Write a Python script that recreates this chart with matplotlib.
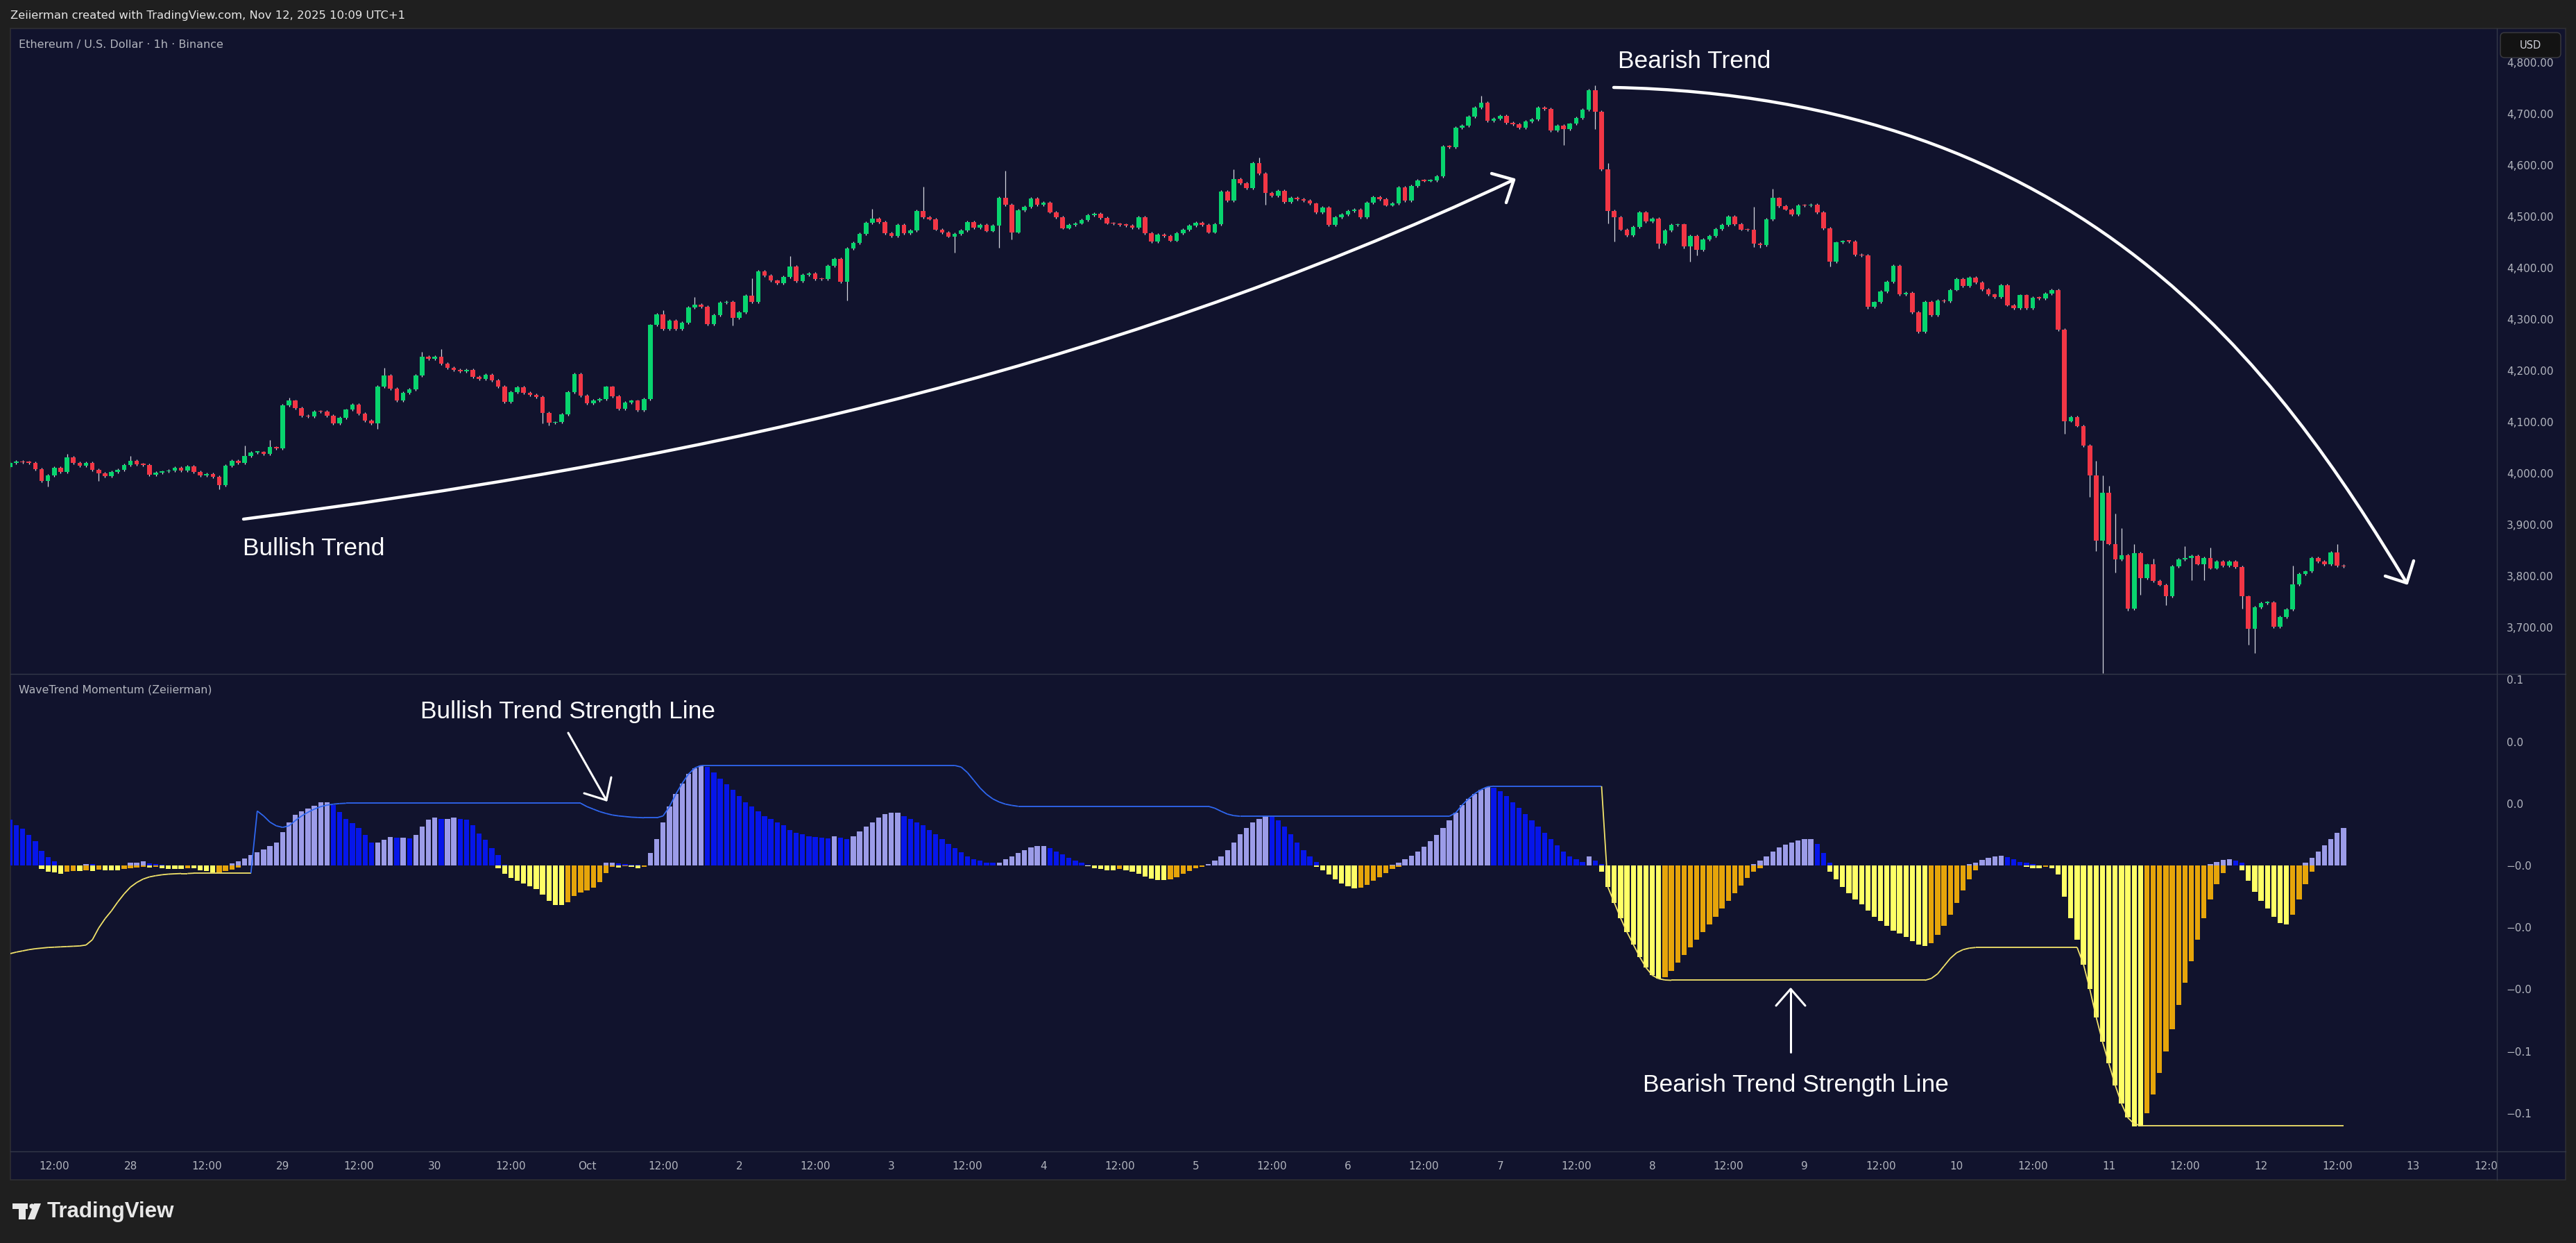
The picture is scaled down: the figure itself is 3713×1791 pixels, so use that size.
import numpy as np
import matplotlib
matplotlib.use("Agg")
import matplotlib.pyplot as plt
from matplotlib.patches import Rectangle, FancyBboxPatch, Polygon, Circle, PathPatch
from matplotlib.path import Path
from matplotlib.collections import LineCollection
from matplotlib.lines import Line2D
from matplotlib.transforms import IdentityTransform

W, H, DPI = 3713, 1791, 100

# ---------------------------------------------------------------- data
# hours are counted from Sep 28 00:00 ; first candle = Sep 27 05:00
first_hour = -19
first_open = 4012.0

closes = [
    # Sep 27 05:00 - 23:00
    4020.7, 4022.9, 4021.5, 4020.6, 4008.5, 3984.6, 3996.3, 4010.8, 4002.6, 4031.0,
    4020.7, 4015.2, 4020.7, 4007.2, 4000.4, 3995.0, 4002.6, 4006.7, 4016.0,
    # Sep 28
    4024.3, 4018.0, 4016.5, 3997.3, 4001.3, 4003.5, 4005.3, 4010.8, 4005.8, 4013.5, 4003.1, 3996.3,
    3999.0, 3993.6, 3977.4, 4014.8, 4024.3, 4020.7, 4034.2, 4041.0, 4041.4, 4037.8, 4050.8, 4049.0,
    # Sep 29
    4132.4, 4141.4, 4127.4, 4112.6, 4110.8, 4120.7, 4120.2, 4112.1, 4097.3, 4108.1, 4123.8, 4133.7,
    4116.6, 4102.7, 4097.3, 4168.9, 4190.1, 4164.8, 4142.3, 4156.7, 4163.5, 4190.5, 4226.6, 4223.4,
    # Sep 30
    4227.0, 4213.5, 4205.4, 4200.9, 4198.6, 4201.3, 4188.2, 4184.2, 4191.9, 4181.5, 4169.3, 4139.0,
    4158.1, 4167.1, 4157.2, 4152.7, 4149.1, 4117.5, 4098.2, 4099.5, 4114.4, 4158.1, 4192.8, 4151.3,
    # Oct 1
    4136.9, 4142.3, 4144.6, 4168.4, 4150.4, 4125.6, 4137.8, 4141.4, 4123.4, 4144.6, 4288.7, 4309.0,
    4281.1, 4297.3, 4281.1, 4293.2, 4323.0, 4328.4, 4324.3, 4291.0, 4308.1, 4332.4, 4333.8, 4303.1,
    # Oct 2
    4313.5, 4345.9, 4333.8, 4393.2, 4385.1, 4375.2, 4370.7, 4382.4, 4402.7, 4374.3, 4386.5, 4389.2,
    4378.8, 4378.0, 4404.0, 4418.0, 4373.4, 4437.8, 4448.6, 4466.2, 4487.8, 4495.9, 4489.2, 4468.0,
    # Oct 3
    4462.2, 4483.8, 4468.0, 4473.0, 4510.8, 4499.1, 4495.1, 4474.8, 4468.9, 4461.3, 4465.8, 4473.0,
    4489.2, 4478.8, 4483.8, 4472.1, 4482.0, 4536.5, 4523.0, 4469.4, 4511.7, 4518.9, 4535.1, 4523.4,
    # Oct 4
    4527.0, 4508.6, 4499.1, 4477.5, 4483.8, 4487.0, 4493.2, 4502.7, 4505.9, 4497.7, 4487.0, 4486.0,
    4483.8, 4482.9, 4478.8, 4498.6, 4468.0, 4451.8, 4464.9, 4462.6, 4453.2, 4467.1, 4473.9, 4482.4,
    # Oct 5
    4487.8, 4484.2, 4469.4, 4485.1, 4548.7, 4530.6, 4573.0, 4564.4, 4555.4, 4603.6, 4583.8, 4546.4,
    4541.0, 4549.6, 4528.8, 4536.5, 4534.2, 4531.5, 4525.2, 4508.5, 4517.1, 4484.2, 4498.2, 4504.1,
    # Oct 6
    4510.8, 4514.0, 4498.2, 4526.6, 4537.8, 4534.2, 4522.1, 4525.7, 4556.7, 4531.1, 4559.4, 4570.3,
    4569.4, 4570.3, 4578.0, 4636.5, 4635.6, 4673.0, 4677.0, 4694.6, 4712.2, 4721.2, 4686.9, 4690.5,
    # Oct 7
    4696.4, 4682.9, 4679.3, 4673.0, 4685.1, 4689.2, 4712.2, 4709.9, 4668.0, 4677.0, 4670.7, 4680.6,
    4691.9, 4708.1, 4746.0, 4704.5, 4592.3, 4511.0, 4499.1, 4474.8, 4463.0, 4479.3, 4508.1, 4491.0,
    # Oct 8
    4496.0, 4447.7, 4473.0, 4483.8, 4484.5, 4441.9, 4462.6, 4435.1, 4455.4, 4462.1, 4475.7, 4483.8,
    4500.0, 4484.7, 4474.8, 4474.3, 4447.7, 4444.1, 4494.6, 4536.0, 4520.7, 4514.0, 4503.6, 4521.6,
    # Oct 9
    4521.0, 4523.0, 4508.5, 4476.6, 4411.7, 4449.5, 4452.2, 4451.5, 4426.1, 4424.3, 4324.7, 4333.3,
    4354.0, 4372.9, 4403.6, 4349.1, 4352.0, 4313.4, 4276.0, 4334.0, 4307.6, 4336.3, 4335.0, 4357.4,
    # Oct 10
    4378.5, 4365.0, 4380.8, 4372.0, 4358.0, 4348.0, 4342.7, 4366.2, 4327.5, 4321.1, 4346.8, 4321.6,
    4342.2, 4341.0, 4349.8, 4356.8, 4280.0, 4101.9, 4109.5, 4092.5, 4054.4, 3996.4, 3869.3, 3961.8,
    # Oct 11
    3862.8, 3832.3, 3841.1, 3736.8, 3845.2, 3795.4, 3822.4, 3790.7, 3783.1, 3760.2, 3818.9, 3832.3,
    3835.3, 3839.4, 3823.6, 3834.7, 3815.4, 3828.2, 3820.6, 3828.2, 3817.1, 3760.2, 3697.0, 3739.2,
    # Oct 12
    3747.4, 3748.5, 3701.7, 3720.4, 3735.1, 3783.7, 3804.2, 3808.9, 3835.3, 3828.8, 3822.4, 3845.8,
    3820.6, 3818.9,
]

# notable wick extremes (hour -> price)
wick_highs = {-10: 4037.8, 0: 4034.2, 18: 4054.0, 22: 4064.8, 25: 4146.8, 40: 4205.4, 46: 4236.5,
              49: 4241.4, 84: 4318.0, 89: 4342.8, 98: 4379.7, 104: 4423.0, 117: 4514.9, 125: 4558.1,
              138: 4589.2, 174: 4591.9, 178: 4614.9, 213: 4735.6, 231: 4755.0, 232: 4706.0,
              233: 4604.0, 256: 4518.4, 259: 4553.6, 310: 4024.0, 311: 3996.4, 312: 3975.9,
              313: 3921.4, 314: 3893.3, 316: 3861.6, 319: 3834.0, 324: 3858.7, 328: 3856.0,
              341: 3820.0, 348: 3861.6}
wick_lows = {-13: 3974.7, -5: 3984.6, 14: 3968.9, 39: 4086.9, 65: 4097.0, 66: 4093.0, 91: 4288.3,
             95: 4288.0, 113: 4337.0, 130: 4429.3, 137: 4439.6, 139: 4455.8, 179: 4523.0,
             226: 4639.2, 231: 4670.3, 233: 4487.0, 234: 4450.9, 241: 4437.4, 245: 4437.4,
             246: 4412.6, 247: 4424.7, 256: 4441.0, 257: 4439.0, 268: 4402.2, 274: 4320.2,
             305: 4076.7, 309: 3953.6, 310: 3848.2, 311: 3610.8, 313: 3807.1, 315: 3733.0,
             317: 3763.2, 321: 3742.7, 325: 3791.3, 327: 3791.3, 333: 3736.8, 334: 3666.5,
             335: 3650.6, 338: 3700.0}

price_ticks = [3700, 3800, 3900, 4000, 4100, 4200, 4300, 4400, 4500, 4600, 4700, 4800]

# WaveTrend momentum histogram (x 1e-4), one value per candle
bull_hist_e4 = ([147, 131, 118, 99, 78, 46, 27, 13] + [0] * 4 + [5, 4] + [0] * 5 +
                [8, 10, 13, 6, 4, 2] + [0] * 4 + [1] + [0] * 5 +
                [7, 13, 22, 33, 42, 51, 62, 73, 107, 138, 163, 175, 184, 193, 203, 203] +
                [195, 172, 151, 136, 120, 98, 75, 75, 84, 91, 89, 89, 87, 98, 125, 149, 154, 151,
                 151, 154, 151, 147, 131, 104, 82, 57, 33] +
                [2] + [0] * 15 + [9, 10, 6, 5, 3, 2] + [0] +
                [40, 85, 140, 190, 230, 265, 295, 315, 323] +
                [318, 300, 280, 262, 245, 225, 205, 190, 175, 160, 150, 140, 130, 115] +
                [105, 100, 95, 92, 90, 88, 95, 90, 85, 95, 110, 125, 140, 155, 165, 170, 170] +
                [160, 150, 140, 130, 115, 100, 85, 70, 55, 42, 30, 20, 15, 10, 8] +
                [10, 20, 30, 40, 50, 58, 62, 62, 55, 45, 35, 25, 15, 8, 3] +
                [0] * 18 +
                [5, 15, 30, 50, 75, 100, 120, 138, 150, 159, 158, 145, 125, 100, 75, 50, 30, 12] +
                [0] * 11 +
                [3, 10, 20, 32, 45, 60, 78, 98, 120, 145, 170, 195, 215, 232, 245, 254, 252, 240,
                 225, 205, 185, 165, 145, 125, 105, 85, 65, 45, 30, 20, 12, 30, 15, 5] +
                [0] * 23 +
                [5, 15, 30, 45, 58, 68, 75, 80, 85, 85, 70, 40, 10] +
                [0] * 21 +
                [5, 10, 18, 25, 30, 32, 28, 20, 12, 8, 5] +
                [0] * 27 +
                [5, 12, 18, 20, 15, 8] +
                [0] * 9 +
                [10, 25, 45, 65, 85, 105, 122])

bear_hist_e4 = ([0] * 5 +
                [-11, -20, -22, -27, -20, -18, -18, -16, -18, -14, -15, -16, -16, -12] +
                [-8, -6, -4, -7, -5, -9, -12, -12, -12, -9, -10, -16, -18, -23, -22, -18, -13, -7] +
                [0] * 40 +
                [-9, -28, -41, -50, -59, -68, -77, -95, -115, -128, -128, -119, -99, -88, -81, -72,
                 -54, -25, -4, -6] +
                [-3, -5, -8, -5] +
                [0] * 69 +
                [-3, -8, -12, -15, -15, -12, -15, -20, -28, -35, -42, -47, -48, -45, -38, -28, -18,
                 -10, -4] +
                [0] * 17 +
                [-5, -15, -30, -45, -58, -68, -74, -72, -62, -50, -38, -25, -12, -4] +
                [0] * 31 +
                [-20, -70, -120, -170, -215, -255, -295, -330, -355, -366, -360, -340, -315, -290,
                 -265, -240, -215, -190, -165, -140, -115, -90, -65, -40, -20, -8] +
                [0] * 10 +
                [-20, -45, -70, -90, -110, -125, -145, -165, -180, -195, -210, -220, -232, -245,
                 -255, -260, -250, -225, -195, -160, -120, -80, -45, -15] +
                [0] * 7 +
                [-5, -8, -10, -5, -10, -30, -100, -170, -240, -320, -400, -490, -570, -640, -710,
                 -770, -815, -843, -843, -800, -740, -670, -600, -530, -450, -380, -310, -240, -170,
                 -110, -60, -25] +
                [0, 0] +
                [-15, -50, -85, -115, -140, -165, -185, -191, -160, -110, -60, -20] +
                [0] * 5)

# trend strength line (x 1e-4); positive = bullish line, negative = bearish line
strength_line_e4 = ([-285, -280, -276, -272, -269, -267, -265, -264, -263, -262, -261, -260, -257,
                     -240, -202, -172, -147, -118, -92, -70, -55, -44, -37, -33, -30, -28, -27,
                     -26, -26, -25] +
                    [-25] * 9 +
                    [176, 160, 140, 128, 123, 128, 145, 160, 172, 182, 190, 195, 198, 200] +
                    [201] * 38 +
                    [190, 182, 174, 168, 163, 160, 158, 156, 155, 154, 154, 154, 160, 190, 230, 265,
                     295, 315, 323] +
                    [323] * 40 +
                    [318, 300, 275, 250, 230, 215, 205, 198, 194] +
                    [191] * 31 +
                    [185, 175, 166, 161] +
                    [159] * 34 +
                    [170, 195, 215, 232, 245, 254] +
                    [256] * 18 +
                    [-70, -120, -170, -215, -255, -295, -330, -355, -366, -370] +
                    [-371] * 41 +
                    [-365, -350, -325, -300, -282, -272, -267] +
                    [-265] * 17 +
                    [-320, -400, -490, -570, -640, -710, -770, -815, -835] +
                    [-840] * 33)

osc_ticks = [0.06, 0.04, 0.02, 0.0, -0.02, -0.04, -0.06, -0.08]
osc_tick_labels = ["0.1", "0.0", "0.0", "\u22120.0", "\u22120.0", "\u22120.0", "\u22120.1", "\u22120.1"]

time_tick_hours = list(range(-12, 373, 12))
time_tick_labels = ["12:00", "28", "12:00", "29", "12:00", "30", "12:00", "Oct", "12:00", "2",
                    "12:00", "3", "12:00", "4", "12:00", "5", "12:00", "6", "12:00", "7", "12:00",
                    "8", "12:00", "9", "12:00", "10", "12:00", "11", "12:00", "12", "12:00", "13",
                    "12:00"]

assert len(closes) == len(bull_hist_e4) == len(bear_hist_e4) == len(strength_line_e4) == 369

# ---------------------------------------------------------------- style / layout
BG_OUT = "#1f1f1f"
NAVY = "#11132d"
SEP = "#343849"
TXT = "#b2b5be"
GREEN = "#08d46e"
RED = "#f23645"
WICK = "#d4d6de"
LAV = "#9c9ce8"
DBLUE = "#0616ea"
LYEL = "#ffff66"
ORNG = "#e6a50a"
BULL_LINE = "#2f67f0"
BEAR_LINE = "#f2e36a"

X0, X1, XR = 15, 3599, 3698          # plot left, price-axis separator, frame right (px)
Y_TOP, Y_SEP, Y_BOT, Y_AXB = 41, 971, 1659, 1700
PX_HOUR, X_H0 = 9.14, 188.0          # x pixel of Sep 28 00:00 and pixels per hour
def h_at(x):
    return (x - X_H0) / PX_HOUR
def price_at(y):
    return 4700 - (y - 164) / 0.74
ZERO_Y, PX_UNIT = 1247, 4460.0
def osc_at(y):
    return (ZERO_Y - y) / PX_UNIT

def fx(x):
    return x / W
def fy(y):
    return 1 - y / H

ID = IdentityTransform()
fig = plt.figure(figsize=(W / DPI, H / DPI), dpi=DPI, facecolor=BG_OUT)

fig.add_artist(Rectangle((X0, H - Y_AXB), XR - X0, Y_AXB - Y_TOP, transform=ID,
                         facecolor=NAVY, edgecolor="#2e2e33", lw=1.2, zorder=-10))

def make_ax(y_top, y_bot):
    a = fig.add_axes([fx(X0), fy(y_bot), fx(X1) - fx(X0), fy(y_top) - fy(y_bot)])
    a.patch.set_visible(False)
    for s in a.spines.values():
        s.set_visible(False)
    a.set_xlim(h_at(X0), h_at(X1))
    a.set_xticks([])
    return a

ax = make_ax(Y_TOP, Y_SEP)
ax2 = make_ax(Y_SEP, Y_BOT)
axt = make_ax(Y_BOT, Y_AXB)

# ---------------------------------------------------------------- candles
hours = np.arange(first_hour, first_hour + len(closes))
c = np.array(closes, dtype=float)
o = np.concatenate([[first_open], c[:-1]])
hi = np.maximum(o, c) + 2.5
lo = np.minimum(o, c) - 2.5
for hh, v in wick_highs.items():
    i = hh - first_hour
    hi[i] = max(hi[i], v)
for hh, v in wick_lows.items():
    i = hh - first_hour
    lo[i] = min(lo[i], v)
up = c >= o
ax.vlines(hours, lo, hi, color=WICK, lw=0.9, zorder=2)
ax.bar(hours, np.maximum(np.abs(c - o), 2.0), bottom=np.minimum(o, c), width=0.72,
       color=np.where(up, GREEN, RED), linewidth=0, zorder=3)
ax.set_ylim(price_at(Y_SEP), price_at(Y_TOP))
ax.yaxis.tick_right()
ax.set_yticks(price_ticks)
ax.set_yticklabels([f"{p:,.2f}" for p in price_ticks])
ax.tick_params(axis="y", length=0, pad=10, labelsize=11, labelcolor=TXT)

# ---------------------------------------------------------------- oscillator
bull = np.array(bull_hist_e4) / 1e4
bear = np.array(bear_hist_e4) / 1e4
prev_b = np.concatenate([[np.inf], bull[:-1]])
bull_cols = np.where(bull >= prev_b, LAV, DBLUE)
mag = -bear
prev_m = np.concatenate([[np.inf], mag[:-1]])
bear_cols = np.where(mag >= prev_m, LYEL, ORNG)
ax2.bar(hours, bull, width=0.8, color=bull_cols, linewidth=0, zorder=2)
ax2.bar(hours, bear, width=0.8, color=bear_cols, linewidth=0, zorder=2)

line = np.array(strength_line_e4) / 1e4
pts = np.column_stack([hours, line])
segs = np.stack([pts[:-1], pts[1:]], axis=1)
seg_cols = [BULL_LINE if v > 0 else BEAR_LINE for v in line[1:]]
ax2.add_collection(LineCollection(segs, colors=seg_cols, linewidths=1.3, zorder=3))
ax2.set_ylim(osc_at(Y_BOT), osc_at(Y_SEP))
ax2.yaxis.tick_right()
ax2.set_yticks(osc_ticks)
ax2.set_yticklabels(osc_tick_labels)
ax2.tick_params(axis="y", length=0, pad=10, labelsize=11, labelcolor=TXT)

# ---------------------------------------------------------------- time axis
axt.set_ylim(0, 1)
axt.set_yticks([])
for hh, lab in zip(time_tick_hours, time_tick_labels):
    axt.text(hh, 0.47, lab, ha="center", va="center", color=TXT, fontsize=11, clip_on=True)

# ---------------------------------------------------------------- separators & boxes
for (xa, xb, ya, yb) in [(X0, XR, Y_SEP, Y_SEP), (X0, XR, Y_BOT, Y_BOT), (X1, X1, Y_TOP, Y_AXB)]:
    fig.add_artist(Line2D([xa, xb], [H - ya, H - yb], transform=ID, color=SEP, lw=1.0, zorder=4))

fig.add_artist(FancyBboxPatch((3604, H - 83), 87, 36, boxstyle="round,pad=0,rounding_size=6",
                              transform=ID, facecolor="#131313", edgecolor="#3c3c40", lw=1.0,
                              zorder=5))
fig.text(fx(3647), fy(65), "USD", ha="center", va="center", color="#d1d4dc", fontsize=10.5,
         zorder=6)

# ---------------------------------------------------------------- header / titles
fig.text(fx(15), fy(23), "Zeiierman created with TradingView.com, Nov 12, 2025 10:09 UTC+1",
         color="#e6e6e6", fontsize=11.8, ha="left", va="center")
fig.text(fx(27), fy(64), "Ethereum / U.S. Dollar \u00b7 1h \u00b7 Binance", color=TXT,
         fontsize=11.5, ha="left", va="center")
fig.text(fx(27), fy(994), "WaveTrend Momentum (Zeiierman)", color=TXT, fontsize=11.3,
         ha="left", va="center")

# ---------------------------------------------------------------- annotations
ANN = dict(color="white", fontsize=25.5, family="Liberation Sans", ha="left", va="center", zorder=7)
fig.text(fx(350), fy(790), "Bullish Trend", **ANN)
fig.text(fx(2332), fy(88), "Bearish Trend", **ANN)
fig.text(fx(606), fy(1025), "Bullish Trend Strength Line", **ANN)
fig.text(fx(2368), fy(1563), "Bearish Trend Strength Line", **ANN)

def curve(p0, p1, p2, p3, lw):
    verts = [(x, H - y) for (x, y) in (p0, p1, p2, p3)]
    path = Path(verts, [Path.MOVETO, Path.CURVE4, Path.CURVE4, Path.CURVE4])
    fig.add_artist(PathPatch(path, transform=ID, fill=False, edgecolor="white", lw=lw,
                             capstyle="round", zorder=7))

def polyline(pts_px, lw):
    xs = [p[0] for p in pts_px]
    ys = [H - p[1] for p in pts_px]
    fig.add_artist(Line2D(xs, ys, transform=ID, color="white", lw=lw, solid_capstyle="round",
                          solid_joinstyle="round", zorder=7))

curve((351, 748), (961, 669), (1572, 546), (2182, 259), 3.2)
polyline([(2150, 250), (2182, 259), (2171, 292)], 3.2)
curve((2326, 126), (3006, 140), (3283, 532), (3469, 840), 3.2)
polyline([(3438, 830), (3469, 840), (3479, 808)], 3.2)
polyline([(819, 1056), (874, 1153)], 2.2)
polyline([(842, 1143), (874, 1153), (881, 1120)], 2.2)
polyline([(2581, 1516), (2581, 1425)], 2.2)
polyline([(2560, 1449), (2581, 1425), (2602, 1449)], 2.2)

# ---------------------------------------------------------------- TradingView logo
LOGO = "#e8e8e8"
fig.add_artist(Rectangle((18, H - 1742), 22, 8, transform=ID, facecolor=LOGO, lw=0, zorder=7))
fig.add_artist(Rectangle((27, H - 1757), 10, 23, transform=ID, facecolor=LOGO, lw=0, zorder=7))
fig.add_artist(Circle((46, H - 1738), 3.6, transform=ID, facecolor=LOGO, lw=0, zorder=7))
fig.add_artist(Polygon([(49, H - 1734), (59, H - 1734), (50, H - 1757), (40, H - 1757)],
                       closed=True, transform=ID, facecolor=LOGO, lw=0, zorder=7))
fig.text(fx(68), fy(1746), "TradingView", color=LOGO, fontsize=22.5, family="Liberation Sans",
         fontweight="bold", ha="left", va="center")

fig.savefig("out.png", dpi=DPI, facecolor=BG_OUT)
